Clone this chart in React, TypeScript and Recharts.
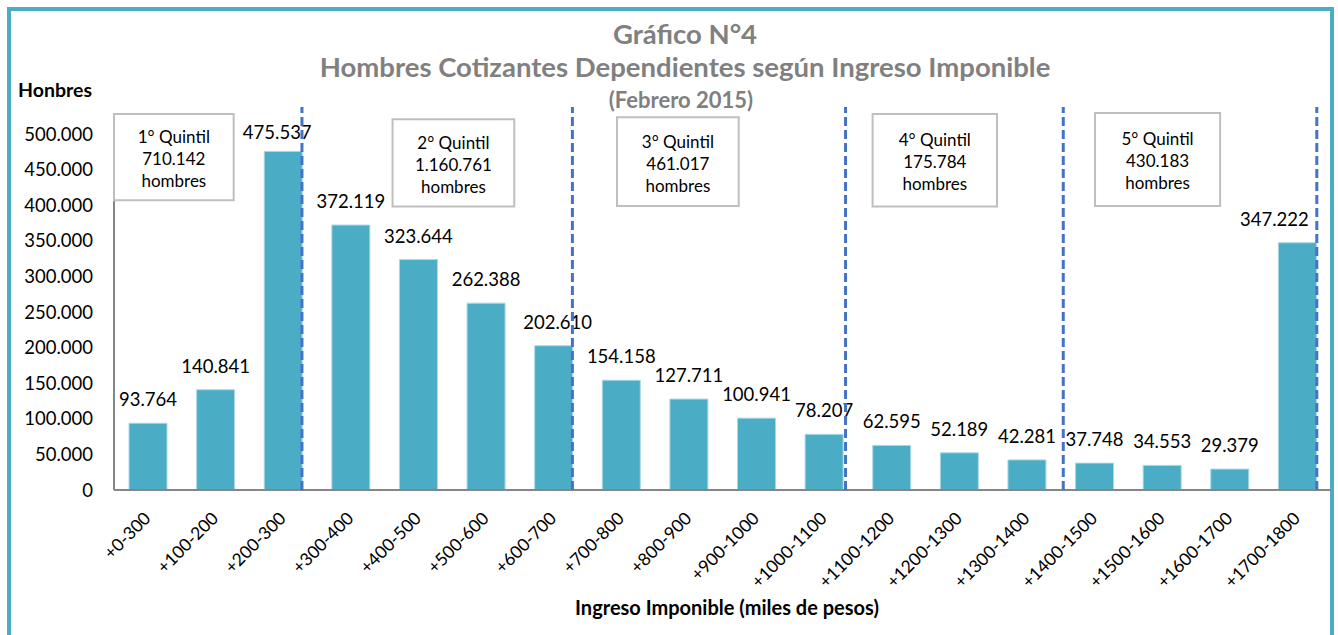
import React from 'react';
import { BarChart, Bar, XAxis, YAxis, ReferenceLine, ReferenceArea, LabelList } from 'recharts';

// ---------- data ----------
const categories = [
  '+0-300', '+100-200', '+200-300', '+300-400', '+400-500', '+500-600', '+600-700',
  '+700-800', '+800-900', '+900-1000', '+1000-1100', '+1100-1200', '+1200-1300',
  '+1300-1400', '+1400-1500', '+1500-1600', '+1600-1700', '+1700-1800',
];
const values = [
  93764, 140841, 475537, 372119, 323644, 262388, 202610, 154158, 127711, 100941,
  78207, 62595, 52189, 42281, 37748, 34553, 29379, 347222,
];
const yTicks = [0, 50000, 100000, 150000, 200000, 250000, 300000, 350000, 400000, 450000, 500000];
const quintileNames = ['1° Quintil', '2° Quintil', '3° Quintil', '4° Quintil', '5° Quintil'];
const quintileTotals = ['710.142', '1.160.761', '461.017', '175.784', '430.183'];
const quintileUnit = 'hombres';

const titleLine1 = 'Gráfico N°4';
const titleLine2 = 'Hombres Cotizantes Dependientes según Ingreso Imponible';
const titleLine3 = '(Febrero 2015)';
const yAxisTitle = 'Honbres';
const xAxisTitle = 'Ingreso Imponible (miles de pesos)';

// ---------- annotation layout (x in category units on a 0..18 axis, y in value units) ----------
const dividerX = [2.78, 6.78, 10.82, 14.04, 17.79];
const dividerTop = 538000;
const boxX: number[][] = [[0, 1.77], [4.12, 5.92], [7.44, 9.24], [11.22, 13.06], [14.51, 16.36]];
const boxY: number[][] = [[407000, 528000], [398000, 520600], [398900, 523500], [398000, 528000], [398900, 529500]];
const labelShift: Record<number, { dx: number; dy: number }> = {
  2: { dx: -6, dy: 5 },
  6: { dx: 4, dy: 0 },
  17: { dx: -23, dy: 0 },
};

const data = categories.map((c, i) => ({ name: c, value: values[i] }));

const fmt = (v: number) => String(Math.round(v)).replace(/\B(?=(\d{3})+(?!\d))/g, '.');

const FONT = 'Lato, "Open Sans", sans-serif';
const TEAL = '#4BACC6';
const AXIS = '#868686';

const XTick = (props: any) => {
  const { x, y, payload } = props;
  const ax = x + 4;
  const ay = y + 29.5;
  return (
    <text
      x={ax}
      y={ay}
      transform={`rotate(-45 ${ax} ${ay})`}
      textAnchor="end"
      fontSize={17.5}
      fill="#000"
      style={{ fontFamily: FONT }}
    >
      {payload.value}
    </text>
  );
};

const BarValueLabel = (props: any) => {
  const { x, y, width, value, index } = props;
  const s = labelShift[index] || { dx: 0, dy: 0 };
  return (
    <text
      x={Number(x) + Number(width) / 2 + s.dx}
      y={Number(y) - 17 + s.dy}
      textAnchor="middle"
      fontSize={18.5}
      fill="#000"
      style={{ fontFamily: FONT }}
    >
      {fmt(Number(value))}
    </text>
  );
};

const makeBoxLabel = (i: number) => (p: any) => {
  const vb = p.viewBox || p;
  const cx = vb.x + vb.width / 2;
  const cy = vb.y + vb.height / 2;
  return (
    <text textAnchor="middle" fontSize={17} fill="#000" style={{ fontFamily: FONT }}>
      <tspan x={cx} y={cy - 14}>{quintileNames[i]}</tspan>
      <tspan x={cx} y={cy + 8}>{quintileTotals[i]}</tspan>
      <tspan x={cx} y={cy + 30}>{quintileUnit}</tspan>
    </text>
  );
};

const centeredDiv = (top: number, h: number, size: number, color: string, text: string, left: number, width: number) => (
  <div
    style={{
      position: 'absolute',
      left,
      top,
      width,
      height: h,
      lineHeight: `${h}px`,
      textAlign: 'center',
      fontWeight: 700,
      fontSize: size,
      color,
      fontFamily: FONT,
      whiteSpace: 'nowrap',
    }}
  >
    {text}
  </div>
);

export default function App() {
  return (
    <div
      style={{
        position: 'absolute',
        left: 0,
        top: 0,
        width: 1338,
        height: 635,
        overflow: 'hidden',
        background: '#fff',
        fontFamily: FONT,
      }}
    >
      <div
        style={{
          position: 'absolute',
          left: 7,
          top: 7,
          width: 1327,
          height: 700,
          border: `4px solid ${TEAL}`,
          boxSizing: 'border-box',
        }}
      />
      <div style={{ position: 'absolute', left: 0, top: 0 }}>
        <BarChart
          width={1338}
          height={635}
          data={data}
          margin={{ top: 134, right: 7, bottom: 0, left: 0 }}
        >
          <XAxis
            xAxisId="cat"
            dataKey="name"
            type="category"
            interval={0}
            height={145}
            tickLine={false}
            tickSize={0}
            tickMargin={0}
            axisLine={{ stroke: AXIS, strokeWidth: 2 }}
            tick={<XTick />}
          />
          <XAxis
            xAxisId="num"
            dataKey="value"
            type="number"
            scale="linear"
            domain={[0, 18]}
            allowDataOverflow
            hide
          />
          <YAxis
            width={114}
            domain={[0, 500000]}
            ticks={yTicks}
            interval={0}
            tickFormatter={fmt}
            tickLine={false}
            tickSize={0}
            tickMargin={21}
            axisLine={{ stroke: AXIS, strokeWidth: 2 }}
            tick={{ fill: '#000', fontSize: 18.5, fontFamily: FONT }}
          />
          <Bar
            xAxisId="cat"
            dataKey="value"
            fill={TEAL}
            stroke="#A9D8E4"
            strokeWidth={1}
            barSize={38}
            isAnimationActive={false}
          >
            <LabelList dataKey="value" content={<BarValueLabel />} />
          </Bar>
          {boxX.map((bx, i) => (
            <ReferenceArea
              key={`box${i}`}
              xAxisId="num"
              x1={bx[0]}
              x2={bx[1]}
              y1={boxY[i][0]}
              y2={boxY[i][1]}
              fill="#fff"
              fillOpacity={1}
              stroke="#BFBFBF"
              strokeWidth={2}
              ifOverflow="visible"
              zIndex={2200}
              label={makeBoxLabel(i)}
            />
          ))}
          {dividerX.map((dx, i) => (
            <ReferenceLine
              key={`div${i}`}
              xAxisId="num"
              segment={[{ x: dx, y: 0 }, { x: dx, y: dividerTop }]}
              stroke="#4472C4"
              strokeWidth={3}
              strokeDasharray="9 4"
              ifOverflow="visible"
              zIndex={2100}
            />
          ))}
        </BarChart>
      </div>
      {centeredDiv(18, 32, 27.5, '#808080', titleLine1, 285, 800)}
      {centeredDiv(51, 32, 27.5, '#808080', titleLine2, 285, 800)}
      {centeredDiv(87, 26, 22, '#808080', titleLine3, 281, 800)}
      <div
        style={{
          position: 'absolute',
          left: 18,
          top: 77,
          height: 26,
          lineHeight: '26px',
          fontWeight: 700,
          fontSize: 19.5,
          color: '#000',
          fontFamily: FONT,
        }}
      >
        {yAxisTitle}
      </div>
      {centeredDiv(593, 28, 20, '#000', xAxisTitle, 327, 800)}
    </div>
  );
}
